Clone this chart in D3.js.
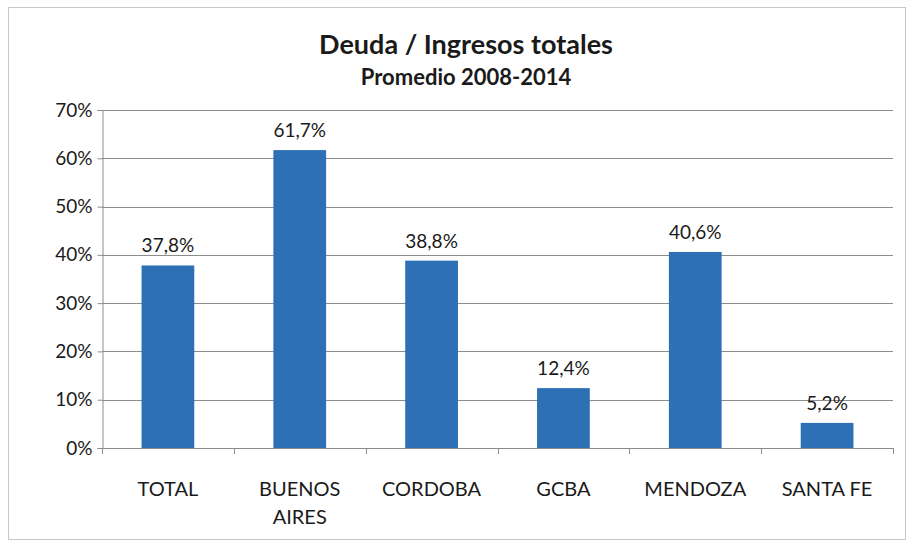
<!DOCTYPE html>
<html>
<head>
<meta charset="utf-8">
<script src="https://cdn.jsdelivr.net/npm/d3@7"></script>
<style>
  html, body { margin: 0; padding: 0; background: #fff; }
  svg { display: block; font-family: Lato, "Open Sans", sans-serif; }
</style>
</head>
<body>
<svg id="chart" width="913" height="545"></svg>
<script>
// Debt-to-total-revenue ratio by jurisdiction, 2008-2014 average
const categories = ["TOTAL", "BUENOS AIRES", "CORDOBA", "GCBA", "MENDOZA", "SANTA FE"];
const categoryLines = [["TOTAL"], ["BUENOS", "AIRES"], ["CORDOBA"], ["GCBA"], ["MENDOZA"], ["SANTA FE"]];
const values = [37.8, 61.7, 38.8, 12.4, 40.6, 5.2];
const yTicks = [0, 10, 20, 30, 40, 50, 60, 70];
const title = "Deuda / Ingresos totales";
const subtitle = "Promedio 2008-2014";

const svg = d3.select("#chart");
const W = 913, H = 545;
const margin = { left: 102, right: 20, top: 110, bottom: 97 };
const plotW = W - margin.left - margin.right;
const plotH = H - margin.top - margin.bottom;

// chart frame
svg.append("rect")
  .attr("x", 8.5).attr("y", 7.5)
  .attr("width", 897).attr("height", 532)
  .attr("fill", "#fff").attr("stroke", "#c8c8c8").attr("stroke-width", 1);

const x = d3.scaleBand().domain(categories).range([0, plotW]).paddingInner(0.6).paddingOuter(0.3);
const y = d3.scaleLinear().domain([0, 70]).range([plotH, 0]);

const g = svg.append("g").attr("transform", `translate(${margin.left},${margin.top})`);

// horizontal gridlines
g.append("g").selectAll("line").data(yTicks.filter(t => t > 0)).join("line")
  .attr("x1", 0).attr("x2", plotW)
  .attr("y1", d => Math.round(y(d)) + 0.5).attr("y2", d => Math.round(y(d)) + 0.5)
  .attr("stroke", "#8c8c8c").attr("stroke-width", 1);

// y axis
const yAxis = d3.axisLeft(y).tickValues(yTicks).tickSize(5).tickPadding(5).tickFormat(d => d + "%");
const ya = g.append("g").attr("transform", "translate(0.5,0)").call(yAxis);
ya.select(".domain").attr("stroke", "#8c8c8c");
ya.selectAll(".tick line").attr("stroke", "#8c8c8c");
ya.selectAll(".tick text").attr("font-size", 19).attr("fill", "#1a1a1a").attr("font-family", "Lato, sans-serif");

// bars
g.append("g").selectAll("rect").data(values).join("rect")
  .attr("x", (d, i) => x(categories[i]))
  .attr("y", d => y(d))
  .attr("width", x.bandwidth())
  .attr("height", d => y(0) - y(d))
  .attr("fill", "#2d70b5");

// value labels
g.append("g").selectAll("text").data(values).join("text")
  .attr("x", (d, i) => x(categories[i]) + x.bandwidth() / 2)
  .attr("y", d => y(d) - 13)
  .attr("text-anchor", "middle")
  .attr("font-size", 19).attr("fill", "#1a1a1a")
  .text(d => d.toFixed(1).replace(".", ",") + "%");

// x axis baseline with boundary ticks
const step = plotW / categories.length;
g.append("line")
  .attr("x1", 0).attr("x2", plotW)
  .attr("y1", plotH + 0.5).attr("y2", plotH + 0.5)
  .attr("stroke", "#8c8c8c");
g.append("g").selectAll("line").data(d3.range(categories.length + 1)).join("line")
  .attr("x1", i => Math.round(i * step) + 0.5).attr("x2", i => Math.round(i * step) + 0.5)
  .attr("y1", plotH).attr("y2", plotH + 6)
  .attr("stroke", "#8c8c8c");

// category labels
const xl = g.append("g").selectAll("text").data(categories).join("text")
  .attr("x", d => x(d) + x.bandwidth() / 2)
  .attr("y", plotH + 48)
  .attr("text-anchor", "middle")
  .attr("font-size", 20).attr("fill", "#1a1a1a");
xl.selectAll("tspan").data((d, i) => categoryLines[i]).join("tspan")
  .attr("x", function () { return d3.select(this.parentNode).attr("x"); })
  .attr("dy", (d, j) => j === 0 ? 0 : 28)
  .text(d => d);

// titles
svg.append("text").attr("x", 466).attr("y", 54).attr("text-anchor", "middle")
  .attr("font-size", 27).attr("font-weight", "bold").attr("fill", "#1a1a1a").text(title);
svg.append("text").attr("x", 466).attr("y", 85).attr("text-anchor", "middle")
  .attr("font-size", 22).attr("font-weight", "bold").attr("fill", "#1a1a1a").text(subtitle);
</script>
</body>
</html>
